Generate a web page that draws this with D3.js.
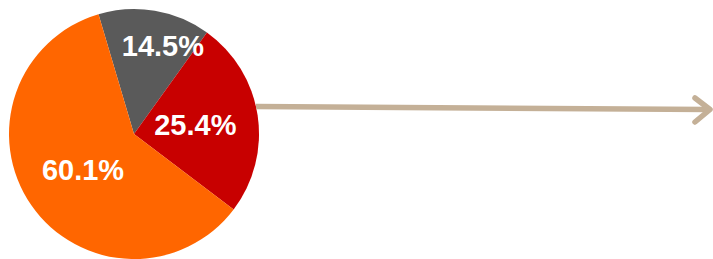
<!DOCTYPE html>
<html>
<head>
<meta charset="utf-8">
<script src="https://cdn.jsdelivr.net/npm/d3@7"></script>
<style>
  html, body { margin: 0; padding: 0; background: #fff; }
  svg { display: block; }
</style>
</head>
<body>
<svg width="713" height="259"></svg>
<script>
// pie shares, clockwise from the grey slice
const categories = ['grey', 'red', 'orange'];
const shares = [14.5, 25.4, 60.1];
const labels = ['14.5%', '25.4%', '60.1%'];

const colors = d3.scaleOrdinal()
	.domain(categories)
	.range(['#5a5a5a', '#c80000', '#ff6600']);

const svg = d3.select('svg');

const cx = 134, cy = 134, radius = 125;
const deg = Math.PI / 180;

const pie = d3.pie()
	.sort(null)
	.value(d => d.v)
	.startAngle(-16.5 * deg)
	.endAngle(343.5 * deg);

const rows = categories.map((c, i) => ({c, v: shares[i], label: labels[i]}));
const arcs = pie(rows);

const arc = d3.arc().innerRadius(0).outerRadius(radius);

const g = svg.append('g').attr('transform', `translate(${cx},${cy})`);

g.selectAll('path')
	.data(arcs)
	.enter().append('path')
		.attr('d', arc)
		.attr('fill', d => colors(d.data.c));

// label placement: the grey one sits further out and nudged clockwise
const labelR = [93.5, 62, 62];
const labelShift = [8.4 * deg, 0, 0];

g.selectAll('text')
	.data(arcs)
	.enter().append('text')
		.attr('x', (d, i) => {
			const a = (d.startAngle + d.endAngle) / 2 + labelShift[i];
			return labelR[i] * Math.sin(a);
		})
		.attr('y', (d, i) => {
			const a = (d.startAngle + d.endAngle) / 2 + labelShift[i];
			return -labelR[i] * Math.cos(a);
		})
		.attr('dy', '0.36em')
		.attr('text-anchor', 'middle')
		.attr('font-family', '"Liberation Sans", Arial, sans-serif')
		.attr('font-weight', 'bold')
		.attr('font-size', 29)
		.attr('fill', '#fff')
		.text(d => d.data.label);

// arrow from the pie's right edge
const arrowColor = '#c4b097';
const x0 = cx + radius - 3, y0 = 106.5;
const x1 = 710, y1 = 109.5;

svg.append('line')
	.attr('x1', x0).attr('y1', y0)
	.attr('x2', x1 - 2).attr('y2', y1)
	.attr('stroke', arrowColor)
	.attr('stroke-width', 5.5);

svg.append('path')
	.attr('d', d3.line()([[x1 - 15, y1 - 11.5], [x1, y1], [x1 - 15, y1 + 12.5]]))
	.attr('fill', 'none')
	.attr('stroke', arrowColor)
	.attr('stroke-width', 5.5)
	.attr('stroke-linecap', 'round')
	.attr('stroke-linejoin', 'round');
</script>
</body>
</html>
